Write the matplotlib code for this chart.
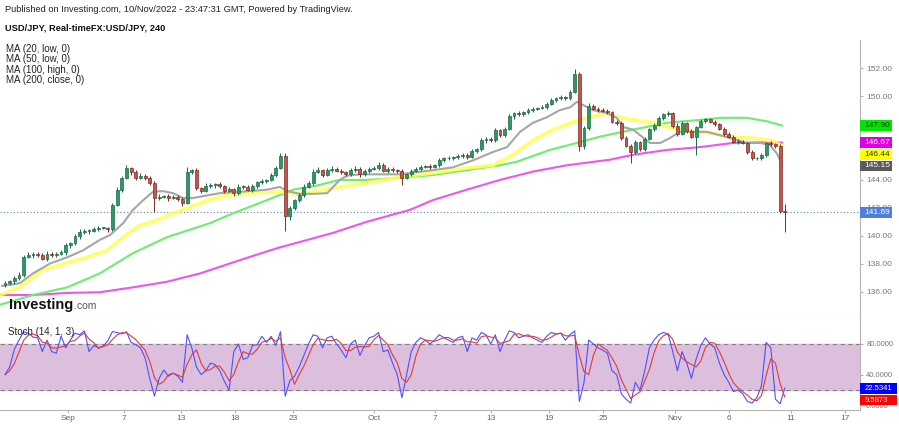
import numpy as np
import pandas as pd
import matplotlib
matplotlib.use("Agg")
import matplotlib.pyplot as plt
import matplotlib.transforms as mtransforms
from matplotlib.patches import Rectangle

plt.rcParams['font.family'] = ['Liberation Sans', 'DejaVu Sans']

# USD/JPY candles (one per 8 hours, x = candle index)
first_open = 136.5
closes = [
    136.6, 136.75, 136.95, 137.2, 138.5, 138.6, 138.7, 138.6, 138.35, 138.7, 138.6, 138.7,
    138.8, 139.3, 139.45, 139.95, 140.25, 140.35, 140.35, 140.5, 140.55, 140.55, 140.45, 142.2,
    143.3, 144.15, 144.85, 144.55, 144.15, 144.3, 144.15, 143.8, 142.7, 142.8, 142.85, 142.7,
    142.8, 142.65, 142.35, 144.55, 144.7, 143.4, 143.2, 143.55, 143.6, 143.7, 143.55, 143.2,
    143.35, 143.05, 143.5, 143.5, 143.3, 143.55, 143.85, 143.9, 144.0, 144.35, 144.85, 145.7,
    141.4, 142.0, 142.55, 142.9, 143.5, 143.8, 144.6, 144.7, 144.35, 144.7, 144.8, 144.65,
    144.55, 144.4, 144.7, 144.8, 144.4, 144.65, 144.8, 144.85, 145.05, 144.65, 144.8, 144.7,
    144.65, 144.15, 144.4, 144.65, 144.8, 144.95, 145.0, 144.95, 145.05, 145.4, 145.55, 145.55,
    145.65, 145.7, 145.8, 145.65, 146.1, 146.2, 146.85, 146.95, 146.85, 147.55, 147.2, 147.65,
    148.55, 148.8, 148.7, 148.85, 149.0, 149.1, 149.15, 149.2, 149.45, 149.75, 149.85, 149.95,
    149.85, 150.3, 151.6, 146.4, 147.7, 149.3, 149.1, 149.0, 148.95, 148.85, 148.15, 148.1,
    147.0, 146.45, 146.0, 146.7, 146.2, 146.95, 147.65, 147.95, 148.45, 148.7, 148.8, 147.9,
    147.3, 148.05, 147.5, 147.1, 147.8, 148.2, 148.35, 148.15, 148.0, 147.65, 147.3, 147.1,
    146.75, 146.75, 146.65, 146.0, 145.55, 145.55, 145.8, 146.65, 146.55, 146.45, 141.75, 141.69,
]
wick_hi = [
    .15, .1, .15, .2, .15, .2, .15, .1, .15, .2, .1, .15,
    .15, .2, .1, .15, .2, .1, .15, .1, .15, .1, .1, .15,
    .2, .15, .2, .1, .15, .2, .1, .15, .15, .2, .1, .15,
    .1, .15, .1, .35, .1, .15, .1, .2, .15, .1, .15, .1,
    .15, .1, .2, .15, .1, .15, .1, .15, .1, .15, .15, .2,
    .2, .15, .1, .15, .2, .1, .15, .2, .1, .15, .2, .1,
    .15, .1, .15, .2, .1, .15, .1, .15, .2, .15, .1, .15,
    .1, .15, .1, .15, .1, .15, .1, .15, .1, .15, .1, .15,
    .1, .15, .1, .1, .15, .1, .15, .1, .15, .2, .1, .15,
    .15, .1, .15, .1, .15, .1, .1, .15, .1, .15, .1, .15,
    .1, .15, .35, .1, .15, .2, .15, .1, .15, .1, .1, .15,
    .1, .15, .1, .15, .1, .15, .1, .15, .15, .1, .15, .1,
    .15, .15, .1, .15, .1, .15, .1, .1, .15, .1, .15, .1,
    .1, .15, .1, .1, .15, .1, .15, .1, .15, .1, .1, .5,
]
wick_lo = [
    .15, .1, .2, .1, .15, .1, .2, .15, .1, .15, .1, .15,
    .1, .15, .2, .1, .15, .1, .2, .1, .15, .1, .15, .1,
    .1, .15, .1, .2, .15, .1, .15, .2, 1.0, .15, .1, .2,
    .1, .15, .2, .1, .15, .1, .15, .1, .15, .2, .1, .15,
    .1, .2, .1, .15, .1, .15, .1, .15, .1, .1, .15, .1,
    1.05, .3, .15, .1, .15, .1, .2, .1, .15, .1, .15, .1,
    .15, .1, .15, .1, .2, .1, .15, .1, .15, .1, .15, .1,
    .15, .55, .1, .15, .1, .15, .1, .15, .1, .15, .1, .15,
    .1, .15, .1, .15, .1, .15, .1, .2, .1, .15, .1, .15,
    .1, .15, .1, .15, .1, .15, .1, .1, .15, .1, .15, .1,
    .1, .15, .1, .3, .2, .15, .1, .15, .1, .15, .1, .15,
    .15, .1, .8, .15, .1, .15, .1, .15, .1, .15, .1, .15,
    .15, .1, .15, .1, 1.3, .1, .15, .1, .15, .1, .15, .1,
    .1, .15, .1, .15, .1, .15, .1, .15, .1, .15, .1, 1.4,
]

# Stoch %K, one value per candle
stoch_k = [
    40, 50, 73, 85, 96, 94, 89, 88, 70, 85, 70, 68,
    90, 75, 85, 94, 92, 97, 70, 78, 75, 77, 84, 96,
    95, 93, 96, 82, 79, 75, 62, 35, 12, 35, 46, 38,
    42, 38, 30, 92, 75, 50, 40, 45, 55, 53, 45, 31,
    20, 70, 80, 60, 62, 78, 79, 90, 82, 90, 78, 96,
    12, 32, 38, 50, 65, 80, 92, 90, 75, 88, 90, 80,
    72, 62, 80, 85, 65, 78, 88, 90, 95, 70, 72, 55,
    40, 10, 40, 70, 82, 88, 85, 80, 85, 92, 88, 85,
    82, 88, 90, 70, 88, 85, 95, 92, 80, 92, 70, 85,
    97, 95, 88, 90, 92, 88, 85, 82, 90, 95, 93, 94,
    85, 92, 97, 5, 30, 85, 80, 75, 72, 68, 45, 40,
    15, 8, 3, 30, 20, 45, 75, 85, 92, 95, 93, 70,
    45, 70, 55, 35, 60, 78, 88, 80, 75, 55, 40, 30,
    18, 20, 15, 5, 3, 10, 25, 82, 75, 8, 2, 22.5,
]

# moving averages: (candle index, price)
ma20_x = [-0.6, 3.2, 6.0, 9.6, 13.3, 16.7, 20.3, 22.5, 25.3, 27.4, 29.6, 31.7, 33.8, 36.0, 38.1,
          40.3, 41.8, 46.0, 50.3, 56.1, 58.9, 60.4, 63.2, 66.0, 69.0, 71.7, 73.2, 76.0, 80.3,
          84.6, 91.6, 95.9, 100.2, 104.5, 107.5, 110.3, 113.1, 116.1, 118.8, 121.0, 122.5,
          123.6, 125.9, 128.9, 131.0, 132.3, 134.5, 136.6, 138.1, 140.3, 142.4, 144.5, 147.3,
          150.3, 153.1, 155.9, 158.9, 161.7, 163.8, 165.3, 166.4]
ma20_y = [136.4, 136.6, 137.3, 138.0, 138.45, 138.95, 139.7, 140.05, 140.9, 141.85, 142.55, 143.15,
          143.2, 143.05, 142.7, 142.7, 142.8, 143.05, 143.15, 143.3, 143.5, 143.2, 143.0, 143.0,
          143.05, 144.0, 144.3, 144.4, 144.4, 144.4, 144.7, 144.9, 145.4, 146.0, 146.35, 147.45,
          148.1, 148.5, 149.0, 149.2, 149.6, 149.4, 149.0, 148.8, 148.45, 147.8, 147.6, 147.05,
          146.65, 146.65, 147.0, 147.45, 147.45, 147.45, 147.2, 146.95, 146.65, 146.65, 146.5,
          145.9, 145.15]
ma50_x = [-1.07, 3.2, 8.1, 13.3, 17.6, 21.8, 25.3, 28.9, 32.5, 36.0, 39.6, 43.9, 47.5, 52.5, 58.9,
          63.2, 70.2, 77.5, 84.6, 91.6, 98.9, 104.5, 108.8, 113.1, 117.3, 121.6, 125.3, 128.9,
          130.2, 134.5, 138.8, 143.0, 147.3, 151.6, 155.9, 160.2, 164.5, 166.4]
ma50_y = [135.75, 136.3, 137.55, 138.05, 138.45, 138.95, 139.9, 140.75, 141.1, 141.6, 142.05, 142.6,
          142.9, 143.05, 143.15, 143.0, 143.4, 143.8, 144.2, 144.5, 144.85, 145.05, 145.8, 146.85,
          147.6, 148.15, 148.5, 148.8, 148.6, 148.3, 148.1, 147.7, 147.45, 147.35, 147.05, 147.0,
          146.8, 146.44]
ma100_x = [-1.07, 6.0, 13.3, 20.3, 27.4, 34.7, 43.9, 48.8, 56.1, 61.7, 66.8, 71.7, 77.5, 84.6, 91.6,
           98.9, 106.0, 109.6, 116.7, 122.5, 127.4, 134.5, 141.8, 148.8, 153.1, 158.9, 163.2, 166.4]
ma100_y = [135.05, 135.75, 136.3, 137.3, 138.75, 139.9, 140.9, 141.6, 142.55, 143.3, 143.6, 144.0,
           144.0, 144.15, 144.35, 144.7, 145.05, 145.3, 146.15, 146.65, 147.1, 147.6, 148.1, 148.3,
           148.45, 148.45, 148.2, 147.9]
ma200_x = [-1.07, 6.0, 13.3, 20.3, 27.4, 34.7, 41.8, 50.3, 58.2, 70.2, 77.5, 86.7, 91.6, 98.9, 106.0,
           113.1, 120.3, 129.6, 134.5, 141.8, 148.8, 155.9, 163.2, 166.4]
ma200_y = [135.75, 135.75, 135.9, 135.95, 136.3, 136.7, 137.3, 138.25, 139.1, 140.2, 141.0, 141.85,
           142.55, 143.3, 144.0, 144.6, 145.05, 145.45, 145.8, 146.15, 146.35, 146.65, 146.7, 146.67]

# date ticks (candle index where each day starts)
tick_pos = [13.5, 25.5, 37.7, 49.25, 61.7, 79.0, 92.1, 104.1, 116.5, 128.05, 143.5, 155.0, 168.3, 179.9]
tick_lab = ["Sep", "7", "13", "18", "23", "Oct", "7", "13", "19", "25", "Nov", "6", "11", "17"]

# price axis; 146 and 148 are hidden under the value boxes in the original
price_ticks = [136, 138, 140, 142, 144, 146, 148, 150, 152]
price_labels = ["136.00", "138.00", "140.00", "142.00", "144.00", "", "", "150.00", "152.00"]

last_price = 141.69
# (label, box centre, background, text colour)
main_boxes = [("147.90", 147.90, "#00e600", "#003300"),
              ("146.67", 146.67, "#e000e0", "white"),
              ("146.44", 145.84, "#ffff00", "#333333"),
              ("145.15", 145.00, "#5a5a5a", "white"),
              ("141.69", 141.69, "#4f7fdc", "white")]
stoch_boxes = [("22.5341", 22.2, "#0000ff", "white"),
               ("9.5873", 6.9, "#ff0000", "white")]

opens = np.array([first_open] + closes[:-1])
closes = np.array(closes)
highs = np.maximum(opens, closes) + np.array(wick_hi)
lows = np.minimum(opens, closes) - np.array(wick_lo)
idx = np.arange(len(closes))
k = pd.Series(stoch_k, dtype=float)
d = k.rolling(3, min_periods=1).mean()

fig = plt.figure(figsize=(8.99, 4.24), dpi=100)
ax = fig.add_axes([0, 0.2476, 0.9566, 0.6581])
ax2 = fig.add_axes([0, 0.033, 0.9566, 0.2146])

grey = "#b4b4b4"
for a in (ax, ax2):
    a.set_xlim(-1.07, 183.1)
    for s in ("left", "top"):
        a.spines[s].set_visible(False)
    a.spines["right"].set_color(grey)
    a.spines["bottom"].set_color(grey)
    a.yaxis.tick_right()
    a.tick_params(axis="y", length=2.5, pad=2, colors=grey, labelcolor="#777777")

# main panel
ax.set_ylim(134.03, 154.03)
ax.set_yticks(price_ticks)
ax.set_yticklabels(price_labels, fontsize=6)
ax.set_xticks([])

ax.plot(ma200_x, ma200_y, color="#ee55ee", lw=1.5, zorder=2)
ax.plot(ma100_x, ma100_y, color="#6ded6d", lw=1.5, zorder=2)
ax.plot(ma50_x, ma50_y, color="#ffff55", lw=2.6, alpha=0.85, zorder=2)
ax.plot(ma20_x, ma20_y, color="#a6a6a6", lw=1.5, zorder=2)

up = closes >= opens
body_col = np.where(up, "#2a9a62", "#c2584c")
edge_col = np.where(up, "#1b6b44", "#7e2a20")
ax.vlines(idx, lows, highs, colors=edge_col, lw=0.7, zorder=3)
ax.bar(idx, np.maximum(np.abs(closes - opens), 0.04), bottom=np.minimum(opens, closes),
       width=0.62, color=body_col, edgecolor=edge_col, linewidth=0.5, zorder=4)

ax.axhline(last_price, color="#5d7fb0", lw=0.8, ls=(0, (1, 2)), zorder=1)


def price_box(a, yv, txt, bg, fg, half, width, size):
    bt = mtransforms.blended_transform_factory(a.transAxes, a.transData)
    a.add_patch(Rectangle((1.0006, yv - half), width / 860, 2 * half, transform=bt, fc=bg, ec="none",
                          clip_on=False, zorder=6))
    a.text(1.0006 + 4 / 860, yv, txt, transform=bt, fontsize=size, color=fg, va="center", ha="left",
           clip_on=False, zorder=7)


for txt, yv, bg, fg in main_boxes:
    price_box(ax, yv, txt, bg, fg, 0.39, 32, 6)

for i, t in enumerate(["MA (20, low, 0)", "MA (50, low, 0)", "MA (100, high, 0)", "MA (200, close, 0)"]):
    ax.text(0.007, 0.968 - i * 0.037, t, transform=ax.transAxes, fontsize=7, color="#222222",
            va="center", ha="left")

logo = ax.text(0.011, 0.035, "Investing", transform=ax.transAxes, fontsize=10.5,
               fontweight="heavy", color="#111111", va="baseline", ha="left")
ax.annotate(".com", xy=(1, 0), xycoords=logo, xytext=(0.3, 2.0), textcoords="offset points",
            fontsize=7.5, color="#555555", va="baseline", ha="left")

# stochastic panel
ax2.set_ylim(-6.1, 112.5)
ax2.axhspan(20, 80, color="#dcbedd", zorder=0)
ax2.axhline(80, color="#8a7a8a", lw=0.8, ls=(0, (4, 3)), zorder=1)
ax2.axhline(20, color="#8a7a8a", lw=0.8, ls=(0, (4, 3)), zorder=1)
ax2.plot(idx, k, color="#5050ff", lw=0.8, zorder=3)
ax2.plot(idx, d, color="#e03a3a", lw=0.8, zorder=3)
ax2.set_yticks([0, 40, 80])
ax2.set_yticklabels(["0.0000", "40.0000", "80.0000"], fontsize=5.5)
ax2.set_xticks(tick_pos)
ax2.set_xticklabels(tick_lab)
ax2.tick_params(axis="x", length=2, pad=1.5, labelsize=6, colors=grey, labelcolor="#666666")
ax2.text(0.009, 0.86, "Stoch (14, 1, 3)", transform=ax2.transAxes, fontsize=7, color="#222222",
         va="center", ha="left")

for txt, yv, bg, fg in stoch_boxes:
    price_box(ax2, yv, txt, bg, fg, 6.8, 37, 5.5)

fig.text(0.006, 1 - 10 / 424, "Published on Investing.com, 10/Nov/2022 - 23:47:31 GMT, Powered by TradingView.",
         fontsize=6.7, color="#222222", va="center", ha="left")
fig.text(0.006, 1 - 28 / 424, "USD/JPY, Real-timeFX:USD/JPY, 240", fontsize=6.7, fontweight="bold",
         color="#111111", va="center", ha="left")

fig.savefig("out.png", dpi=100)
